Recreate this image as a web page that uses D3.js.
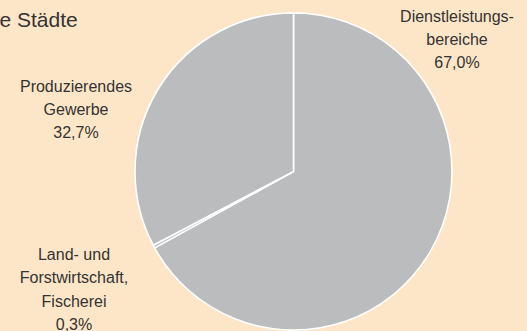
<!DOCTYPE html>
<html>
<head>
<meta charset="utf-8">
<title>Städte</title>
<style type="text/css">
	html, body {
		margin: 0;
		padding: 0;
		background: #fde6c7;
	}
	svg {
		display: block;
	}
	text {
		font-family: "Liberation Sans", Arial, sans-serif;
		fill: #333333;
	}
</style>
</head>
<body>
<svg id="chart"></svg>
<script src="https://cdn.jsdelivr.net/npm/d3@7/dist/d3.min.js"></script>
<script type="text/javascript">

	// data
	var sectors = ["Dienstleistungsbereiche", "Land- und Forstwirtschaft, Fischerei", "Produzierendes Gewerbe"];
	var shares = [67.0, 0.3, 32.7];
	var labelLines = [
		["Dienstleistungs-", "bereiche", "67,0%"],
		["Land- und", "Forstwirtschaft,", "Fischerei", "0,3%"],
		["Produzierendes", "Gewerbe", "32,7%"]
	];
	var titleText = "e Städte";

	var width = 527,
		height = 331;

	// where each label block sits (centre x, first baseline)
	var labelPos = [
		{x: 457, y: 21.5},
		{x: 74, y: 260},
		{x: 76, y: 91.5}
	];
	var lineGap = 23.3;

	var svg = d3.select("#chart")
		.attr("width", width)
		.attr("height", height);

	svg.append("text")
		.attr("x", -0.5)
		.attr("y", 26.5)
		.style("font-size", "21px")
		.text(titleText);

	var cx = 293.5, cy = 171.5, radius = 158.5;

	var pie = d3.pie()
		.sort(null)
		.startAngle(0)
		.endAngle(2 * Math.PI)
		.value(function(d, i) { return shares[i]; });

	var arc = d3.arc()
		.innerRadius(0)
		.outerRadius(radius);

	var g = svg.append("g")
		.attr("transform", "translate(" + cx + "," + cy + ")");

	g.selectAll("path")
		.data(pie(sectors))
		.enter().append("path")
		.attr("d", arc)
		.style("fill", "#bbbcbe")
		.style("stroke", "#ffffff")
		.style("stroke-width", 1.6)
		.style("stroke-linejoin", "round");

	// labels
	var labels = svg.append("g").attr("class", "labels");
	sectors.forEach(function(s, i) {
		var t = labels.append("text")
			.attr("text-anchor", "middle")
			.style("font-size", "16px");
		labelLines[i].forEach(function(line, j) {
			t.append("tspan")
				.attr("x", labelPos[i].x)
				.attr("y", labelPos[i].y + j * lineGap)
				.text(line);
		});
	});
</script>
</body>
</html>
